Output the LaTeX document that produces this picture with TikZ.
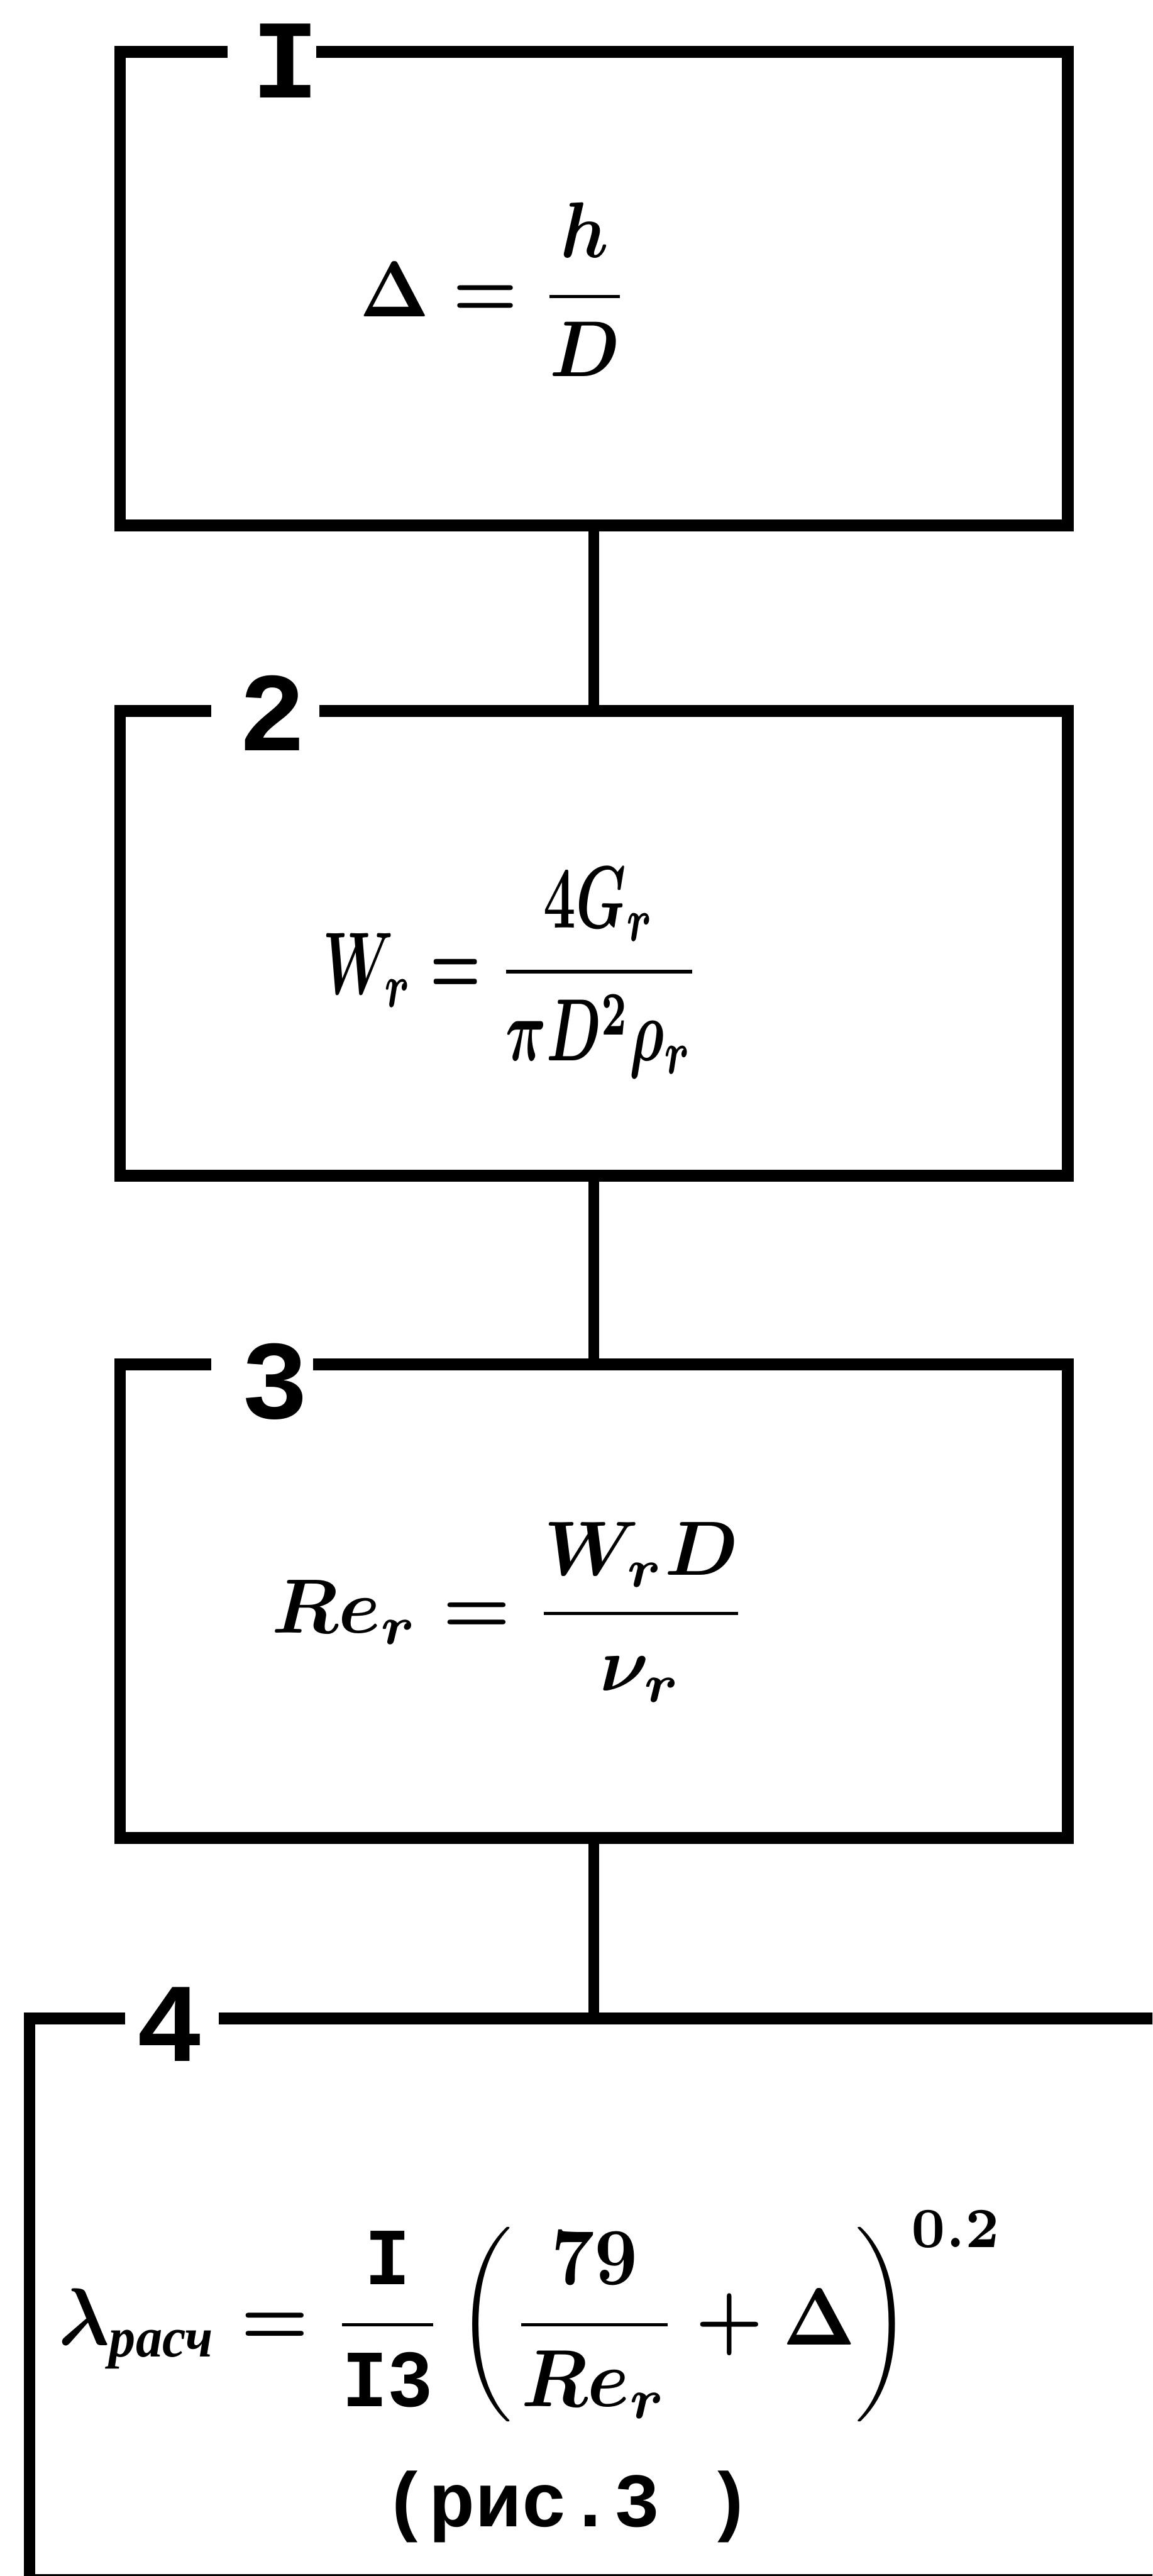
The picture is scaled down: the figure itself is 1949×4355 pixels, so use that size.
\documentclass[tikz,border=0pt]{standalone}
\usepackage{amsmath}
\usepackage{graphicx}
\usepackage{fontspec}
\newfontfamily\twfont{Liberation Mono}
\newfontfamily\cyrfont{Liberation Serif}
\begin{document}
\begin{tikzpicture}[x=0.1mm,y=-0.1mm,
  boxline/.style={line width=2mm, line join=miter},
  conn/.style={line width=1.8mm},
  blk/.style={draw=none, inner sep=0pt, outer sep=0pt},
  lab/.style={inner sep=0pt, font=\twfont\bfseries\fontsize{54}{60}\selectfont},
  fml/.style={inner sep=0pt, outer sep=0pt},
  note/.style={inner sep=0pt, font=\twfont\bfseries\fontsize{37}{44}\selectfont}]
\fill[white] (0,0) rectangle (1949,4355);
\useasboundingbox (0,0) rectangle (1949,4355);
\clip (0,0) rectangle (1949,4355);

% blocks
\node[blk, minimum width=160.3mm, minimum height=80mm] (b1) at (1004.5,488) {};
\node[blk, minimum width=160.3mm, minimum height=78.6mm] (b2) at (1004.5,1595) {};
\node[blk, minimum width=160.3mm, minimum height=80mm] (b3) at (1004.5,2707) {};
\node[blk, minimum width=201mm, minimum height=95mm] (b4) at (1055,3887) {};

% borders with a gap for the number
\draw[boxline] ([xshift=18.2mm]b1.north west) -- (b1.north west) -- (b1.south west) -- (b1.south east) -- (b1.north east) -- ([xshift=33.2mm]b1.north west);
\draw[boxline] ([xshift=15.4mm]b2.north west) -- (b2.north west) -- (b2.south west) -- (b2.south east) -- (b2.north east) -- ([xshift=33.7mm]b2.north west);
\draw[boxline] ([xshift=15.4mm]b3.north west) -- (b3.north west) -- (b3.south west) -- (b3.south east) -- (b3.north east) -- ([xshift=32.6mm]b3.north west);
\draw[boxline] ([xshift=16.2mm]b4.north west) -- (b4.north west) -- (b4.south west) -- (b4.south east) -- (b4.north east) -- ([xshift=32mm]b4.north west);

% numbers
\node[lab] (l1) at (483,103) {I};
\node[lab] (l2) at (460,1205) {2};
\node[lab] (l3) at (465,2336) {3};
\node[lab] (l4) at (287,3422) {4};

% connectors
\draw[conn] (b1.south) -- (b2.north);
\draw[conn] (b2.south) -- (b3.north);
\draw[conn] (b3.south) -- (b3.south |- b4.north);

% formulas
\node[fml] (f1) at (836,489) {\resizebox*{45.4mm}{29.4mm}{\boldmath$\displaystyle \Delta=\frac{h}{D}$}};
\node[fml] (f2) at (864,1644) {\resizebox*{63.7mm}{35.6mm}{\boldmath$\displaystyle W_r=\frac{4G_r}{\pi D^2\rho_r}$}};
\node[fml] (f3) at (862,2726) {\resizebox*{80.4mm}{30.4mm}{\boldmath$\displaystyle Re_r=\frac{W_r D}{\nu_r}$}};
\node[fml] (f4) at (898,3916) {\resizebox*{159.8mm}{35.7mm}{\boldmath$\displaystyle \lambda_{\text{\cyrfont\bfseries\itshape расч}}=\frac{\text{\twfont\bfseries I}}{\text{\twfont\bfseries I3}}\left(\frac{79}{Re_r}+\Delta\right)^{0.2}$}};
\node[note] (n4) at (960,4238) {(рис.3 )};
\end{tikzpicture}
\end{document}
